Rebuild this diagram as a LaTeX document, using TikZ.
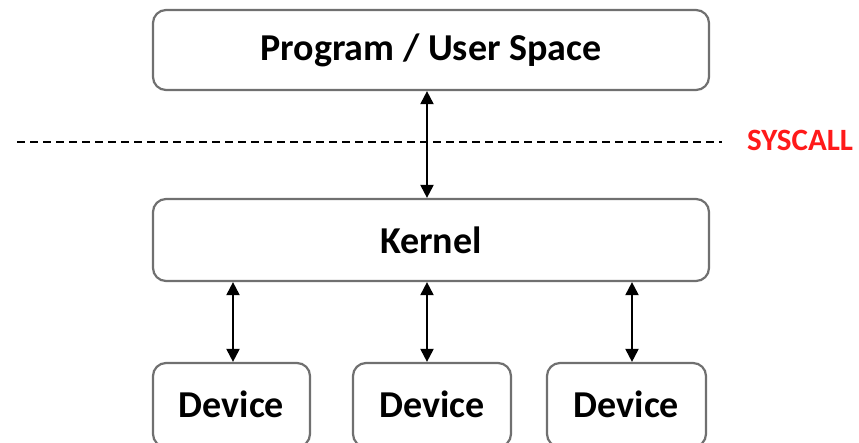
\documentclass[tikz,border=0pt]{standalone}
\usepackage{fontspec}
\setmainfont{Carlito}
\usetikzlibrary{arrows.meta}
\definecolor{boxgray}{HTML}{707070}
\definecolor{sysred}{HTML}{FF1A1A}
\tikzset{
  box/.style={draw=boxgray, line width=2.2pt, rounded corners=13pt, fill=white, inner sep=0pt,
    font=\fontsize{38}{40}\selectfont\bfseries, text=black},
  link/.style={line width=2pt, {Triangle[width=13pt,length=13pt]}-{Triangle[width=13pt,length=13pt]}},
  sepline/.style={line width=1.3pt, dash pattern=on 8pt off 5pt},
}
\begin{document}
\begin{tikzpicture}[x=1pt,y=-1pt]
\clip (0,0) rectangle (859,442);
\fill[white] (0,0) rectangle (859,442);
\node[box, minimum width=556pt, minimum height=80pt] (prog) at (431,50) {Program / User Space};
\node[box, minimum width=556pt, minimum height=82pt] (kern) at (431,240) {Kernel};
\node[box, minimum width=157pt, minimum height=84pt, text depth=0pt] (d1) at (231.5,405) {\raisebox{2pt}{Device}};
\node[box, minimum width=158pt, minimum height=84pt, text depth=0pt] (d2) at (432,405) {\raisebox{2pt}{Device}};
\node[box, minimum width=159pt, minimum height=84pt, text depth=0pt] (d3) at (626.5,405) {\raisebox{2pt}{Device}};
\coordinate (dl) at (17,142);
\coordinate (dr) at (722,142);
\draw[sepline] (dl) -- (dr);
\node[anchor=west, inner sep=0pt, text=sysred, font=\fontsize{31}{32}\selectfont\bfseries] (sys) at (747,140) {SYSCALL};
\draw[link] (prog.south -| 427,0) -- (kern.north -| 427,0);
\draw[link] (kern.south -| 233,0) -- (d1.north -| 233,0);
\draw[link] (kern.south -| 427,0) -- (d2.north -| 427,0);
\draw[link] (kern.south -| 632,0) -- (d3.north -| 632,0);
\end{tikzpicture}
\end{document}
